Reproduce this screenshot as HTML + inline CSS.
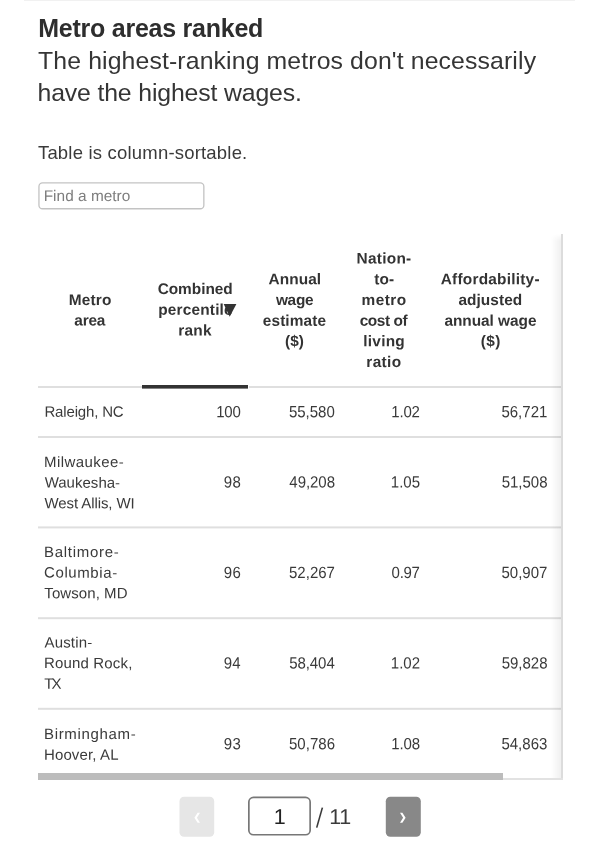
<!DOCTYPE html>
<html><head><meta charset="utf-8">
<style>
*{box-sizing:border-box;margin:0;padding:0}
html,body{width:600px;height:848px;background:#fff;overflow:hidden}
body{font-family:"Liberation Sans",sans-serif;color:#333;position:relative}
#w{position:absolute;left:0;top:0;width:600px;height:848px;overflow:hidden;will-change:transform}
.t{position:absolute;white-space:nowrap}
.shadow{position:absolute;left:551px;top:234px;width:10px;height:545px;background:linear-gradient(to right,rgba(0,0,0,0),rgba(0,0,0,0.06));-webkit-mask-image:linear-gradient(to bottom,transparent,#000 7px);mask-image:linear-gradient(to bottom,transparent,#000 7px)}
.vline{position:absolute;left:561px;top:234px;width:2px;height:545px;background:#dcdcdc}
.sbtrack{position:absolute;left:38px;top:773px;width:513px;height:5px;background:#fff}
.botline{position:absolute;left:502px;top:778px;width:61px;height:1.6px;background:#e2e2e2}
.sbthumb{position:absolute;left:38px;top:773px;width:464.5px;height:6.6px;background:#bcbcbc}
</style></head><body><div id="w">
<svg style="position:absolute;left:0;top:0" width="600" height="848" viewBox="0 0 600 848">
<rect x="24" y="0" width="551" height="1" fill="#f1f1f1"/>
<rect x="38.95" y="182.95" width="164.9" height="25.8" rx="3.6" fill="#fff" stroke="#c3c3c3" stroke-width="1.3"/>
<rect x="38" y="386" width="524" height="2" fill="#dfdfdf"/>
<rect x="142" y="385" width="106" height="3.6" fill="#333"/>
<rect x="248" y="385" width="1" height="4" fill="#fff"/>
<rect x="38" y="436" width="524" height="2" fill="#dfdfdf"/>
<rect x="38" y="526.4" width="524" height="2" fill="#dfdfdf"/>
<rect x="38" y="617.2" width="524" height="2" fill="#dfdfdf"/>
<rect x="38" y="707.8" width="524" height="2" fill="#dfdfdf"/>
<rect x="179.5" y="796.8" width="34.7" height="40" rx="4.5" fill="#e6e6e6"/>
<path d="M200 812.8H197.6L194.4 817.8L197.6 822.8H200L196.9 817.8Z" fill="#fff"/>
<rect x="248.85" y="797.45" width="61.3" height="37.3" rx="4.6" fill="#fff" stroke="#777" stroke-width="1.7"/>
<path d="M316.7 827.6L322.4 807.6" fill="none" stroke="#3a3a3a" stroke-width="1.6"/>
<rect x="385.8" y="796.8" width="35" height="40" rx="4.5" fill="#888"/>
<path d="M400 812.8H402.4L405.6 817.8L402.4 822.8H400L403.1 817.8Z" fill="#fff"/>
</svg>
<div class="t" style="left:38.22px;top:12px;font-size:25px;line-height:32px;font-weight:bold;color:#2e2e2e;letter-spacing:-0.242px">Metro areas ranked</div>
<div class="t" style="left:38.03px;top:45px;font-size:24.8px;line-height:31px;font-weight:normal;color:#353535;letter-spacing:0.125px">The highest-ranking metros don't necessarily</div>
<div class="t" style="left:37.52px;top:77px;font-size:24.8px;line-height:31px;font-weight:normal;color:#353535;letter-spacing:-0.141px">have the highest wages.</div>
<div class="t" style="left:37.95px;top:140px;font-size:18.5px;line-height:25px;font-weight:normal;color:#3a3a3a;letter-spacing:0.196px">Table is column-sortable.</div>
<div class="t" style="left:43px;top:185px;font-size:15.4px;line-height:21px;font-weight:normal;color:#7d7d7d;letter-spacing:0.019px;transform:translate(0.70px,0.00px) rotate(0.05deg);transform-origin:0 16px">Find a metro</div>
<div class="t" style="left:68px;top:289px;font-size:15.4px;line-height:21px;font-weight:bold;color:#333;letter-spacing:0.177px;transform:translate(0.69px,0.00px) rotate(0.05deg);transform-origin:0 16px">Metro</div>
<div class="t" style="left:74px;top:309px;font-size:15.4px;line-height:21px;font-weight:bold;color:#333;letter-spacing:-0.170px;transform:translate(0.26px,0.60px) rotate(0.05deg);transform-origin:0 16px">area</div>
<div class="t" style="left:157px;top:278px;font-size:15.4px;line-height:21px;font-weight:bold;color:#333;letter-spacing:-0.029px;transform:translate(0.66px,0.00px) rotate(0.05deg);transform-origin:0 16px">Combined</div>
<div class="t" style="left:158px;top:298px;font-size:15.4px;line-height:21px;font-weight:bold;color:#333;letter-spacing:0.189px;transform:translate(0.24px,0.80px) rotate(0.05deg);transform-origin:0 16px">percentile</div>
<div class="t" style="left:178px;top:319px;font-size:15.4px;line-height:21px;font-weight:bold;color:#333;letter-spacing:0.270px;transform:translate(0.22px,0.60px) rotate(0.05deg);transform-origin:0 16px">rank</div>
<div class="t" style="left:268px;top:268px;font-size:15.4px;line-height:21px;font-weight:bold;color:#333;letter-spacing:0.103px;transform:translate(0.43px,0.20px) rotate(0.05deg);transform-origin:0 16px">Annual</div>
<div class="t" style="left:275px;top:289px;font-size:15.4px;line-height:21px;font-weight:bold;color:#333;letter-spacing:-0.272px;transform:translate(0.90px,0.00px) rotate(0.05deg);transform-origin:0 16px">wage</div>
<div class="t" style="left:262px;top:309px;font-size:15.4px;line-height:21px;font-weight:bold;color:#333;letter-spacing:0.113px;transform:translate(0.79px,0.80px) rotate(0.05deg);transform-origin:0 16px">estimate</div>
<div class="t" style="left:285px;top:330px;font-size:15.4px;line-height:21px;font-weight:bold;color:#333;letter-spacing:0.049px;transform:translate(0.06px,0.20px) rotate(0.05deg);transform-origin:0 16px">($)</div>
<div class="t" style="left:356px;top:247px;font-size:15.4px;line-height:21px;font-weight:bold;color:#333;letter-spacing:0.278px;transform:translate(0.54px,0.40px) rotate(0.05deg);transform-origin:0 16px">Nation-</div>
<div class="t" style="left:374px;top:268px;font-size:15.4px;line-height:21px;font-weight:bold;color:#333;letter-spacing:0.201px;transform:translate(0.15px,0.20px) rotate(0.05deg);transform-origin:0 16px">to-</div>
<div class="t" style="left:361px;top:289px;font-size:15.4px;line-height:21px;font-weight:bold;color:#333;letter-spacing:0.458px;transform:translate(0.49px,0.00px) rotate(0.05deg);transform-origin:0 16px">metro</div>
<div class="t" style="left:359px;top:309px;font-size:15.4px;line-height:21px;font-weight:bold;color:#333;letter-spacing:-0.395px;transform:translate(0.65px,0.80px) rotate(0.05deg);transform-origin:0 16px">cost of</div>
<div class="t" style="left:363px;top:330px;font-size:15.4px;line-height:21px;font-weight:bold;color:#333;letter-spacing:0.266px;transform:translate(0.22px,0.20px) rotate(0.05deg);transform-origin:0 16px">living</div>
<div class="t" style="left:366px;top:351px;font-size:15.4px;line-height:21px;font-weight:bold;color:#333;letter-spacing:0.334px;transform:translate(0.34px,0.10px) rotate(0.05deg);transform-origin:0 16px">ratio</div>
<div class="t" style="left:440px;top:268px;font-size:15.4px;line-height:21px;font-weight:bold;color:#333;letter-spacing:0.236px;transform:translate(0.69px,0.20px) rotate(0.05deg);transform-origin:0 16px">Affordability-</div>
<div class="t" style="left:458px;top:289px;font-size:15.4px;line-height:21px;font-weight:bold;color:#333;letter-spacing:0.071px;transform:translate(0.42px,0.00px) rotate(0.05deg);transform-origin:0 16px">adjusted</div>
<div class="t" style="left:444px;top:309px;font-size:15.4px;line-height:21px;font-weight:bold;color:#333;letter-spacing:-0.026px;transform:translate(0.43px,0.80px) rotate(0.05deg);transform-origin:0 16px">annual wage</div>
<div class="t" style="left:480px;top:330px;font-size:15.4px;line-height:21px;font-weight:bold;color:#333;letter-spacing:0.432px;transform:translate(0.79px,0.20px) rotate(0.05deg);transform-origin:0 16px">($)</div>
<div class="t" style="left:44px;top:400px;font-size:15px;line-height:21px;font-weight:normal;color:#3a3a3a;letter-spacing:-0.162px;transform:translate(0.43px,0.80px) rotate(0.05deg);transform-origin:0 16px">Raleigh, NC</div>
<div class="t" style="left:43px;top:451px;font-size:15px;line-height:21px;font-weight:normal;color:#3a3a3a;letter-spacing:0.426px;transform:translate(0.98px,0.00px) rotate(0.05deg);transform-origin:0 16px">Milwaukee-</div>
<div class="t" style="left:44px;top:471px;font-size:15px;line-height:21px;font-weight:normal;color:#3a3a3a;letter-spacing:0.022px;transform:translate(0.63px,0.60px) rotate(0.05deg);transform-origin:0 16px">Waukesha-</div>
<div class="t" style="left:44px;top:492px;font-size:15px;line-height:21px;font-weight:normal;color:#3a3a3a;letter-spacing:-0.092px;transform:translate(0.53px,0.30px) rotate(0.05deg);transform-origin:0 16px">West Allis, WI</div>
<div class="t" style="left:43px;top:541px;font-size:15px;line-height:21px;font-weight:normal;color:#3a3a3a;letter-spacing:0.706px;transform:translate(0.97px,0.00px) rotate(0.05deg);transform-origin:0 16px">Baltimore-</div>
<div class="t" style="left:44px;top:561px;font-size:15px;line-height:21px;font-weight:normal;color:#3a3a3a;letter-spacing:0.600px;transform:translate(0.01px,0.60px) rotate(0.05deg);transform-origin:0 16px">Columbia-</div>
<div class="t" style="left:44px;top:582px;font-size:15px;line-height:21px;font-weight:normal;color:#3a3a3a;letter-spacing:0.071px;transform:translate(0.36px,0.30px) rotate(0.05deg);transform-origin:0 16px">Towson, MD</div>
<div class="t" style="left:44px;top:631px;font-size:15px;line-height:21px;font-weight:normal;color:#3a3a3a;letter-spacing:0.165px;transform:translate(0.46px,0.50px) rotate(0.05deg);transform-origin:0 16px">Austin-</div>
<div class="t" style="left:43px;top:652px;font-size:15px;line-height:21px;font-weight:normal;color:#3a3a3a;letter-spacing:0.163px;transform:translate(0.98px,0.10px) rotate(0.05deg);transform-origin:0 16px">Round Rock,</div>
<div class="t" style="left:44px;top:672px;font-size:15px;line-height:21px;font-weight:normal;color:#3a3a3a;letter-spacing:-1.836px;transform:translate(0.20px,0.80px) rotate(0.05deg);transform-origin:0 16px">TX</div>
<div class="t" style="left:43px;top:723px;font-size:15px;line-height:21px;font-weight:normal;color:#3a3a3a;letter-spacing:0.668px;transform:translate(0.97px,0.00px) rotate(0.05deg);transform-origin:0 16px">Birmingham-</div>
<div class="t" style="left:43px;top:743px;font-size:15px;line-height:21px;font-weight:normal;color:#3a3a3a;letter-spacing:0.123px;transform:translate(0.98px,0.80px) rotate(0.05deg);transform-origin:0 16px">Hoover, AL</div>
<div class="t" style="left:273px;top:803px;font-size:21.5px;line-height:28px;font-weight:normal;color:#222;letter-spacing:0.000px;transform:translate(0.81px,0.00px) rotate(0.05deg);transform-origin:0 21px">1</div>
<div class="t" style="left:329px;top:803px;font-size:21.5px;line-height:28px;font-weight:normal;color:#3a3a3a;letter-spacing:-0.248px;transform:translate(0.13px,0.00px) rotate(0.05deg);transform-origin:0 21px">11</div>
<div class="t" style="left:216px;top:401px;font-size:15.0px;line-height:21px;font-weight:normal;color:#3a3a3a;letter-spacing:-0.131px;transform:translate(0.15px,0.20px) rotate(0.05deg) scaleY(1.08);transform-origin:0 16px">100</div>
<div class="t" style="left:288px;top:401px;font-size:15.0px;line-height:21px;font-weight:normal;color:#3a3a3a;letter-spacing:-0.004px;transform:translate(0.92px,0.20px) rotate(0.05deg) scaleY(1.08);transform-origin:0 16px">55,580</div>
<div class="t" style="left:391px;top:401px;font-size:15.0px;line-height:21px;font-weight:normal;color:#3a3a3a;letter-spacing:-0.170px;transform:translate(0.25px,0.20px) rotate(0.05deg) scaleY(1.08);transform-origin:0 16px">1.02</div>
<div class="t" style="left:501px;top:401px;font-size:15.0px;line-height:21px;font-weight:normal;color:#3a3a3a;letter-spacing:0.010px;transform:translate(0.41px,0.20px) rotate(0.05deg) scaleY(1.08);transform-origin:0 16px">56,721</div>
<div class="t" style="left:223px;top:471px;font-size:15.0px;line-height:21px;font-weight:normal;color:#3a3a3a;letter-spacing:0.428px;transform:translate(0.79px,0.40px) rotate(0.05deg) scaleY(1.08);transform-origin:0 16px">98</div>
<div class="t" style="left:289px;top:471px;font-size:15.0px;line-height:21px;font-weight:normal;color:#3a3a3a;letter-spacing:-0.050px;transform:translate(0.37px,0.40px) rotate(0.05deg) scaleY(1.08);transform-origin:0 16px">49,208</div>
<div class="t" style="left:390px;top:471px;font-size:15.0px;line-height:21px;font-weight:normal;color:#3a3a3a;letter-spacing:-0.019px;transform:translate(0.86px,0.40px) rotate(0.05deg) scaleY(1.08);transform-origin:0 16px">1.05</div>
<div class="t" style="left:501px;top:471px;font-size:15.0px;line-height:21px;font-weight:normal;color:#3a3a3a;letter-spacing:-0.008px;transform:translate(0.66px,0.40px) rotate(0.05deg) scaleY(1.08);transform-origin:0 16px">51,508</div>
<div class="t" style="left:223px;top:562px;font-size:15.0px;line-height:21px;font-weight:normal;color:#3a3a3a;letter-spacing:0.383px;transform:translate(0.87px,0.00px) rotate(0.05deg) scaleY(1.08);transform-origin:0 16px">96</div>
<div class="t" style="left:288px;top:562px;font-size:15.0px;line-height:21px;font-weight:normal;color:#3a3a3a;letter-spacing:0.013px;transform:translate(0.99px,0.00px) rotate(0.05deg) scaleY(1.08);transform-origin:0 16px">52,267</div>
<div class="t" style="left:391px;top:562px;font-size:15.0px;line-height:21px;font-weight:normal;color:#3a3a3a;letter-spacing:-0.292px;transform:translate(0.61px,0.00px) rotate(0.05deg) scaleY(1.08);transform-origin:0 16px">0.97</div>
<div class="t" style="left:501px;top:562px;font-size:15.0px;line-height:21px;font-weight:normal;color:#3a3a3a;letter-spacing:0.014px;transform:translate(0.48px,0.00px) rotate(0.05deg) scaleY(1.08);transform-origin:0 16px">50,907</div>
<div class="t" style="left:223px;top:652px;font-size:15.0px;line-height:21px;font-weight:normal;color:#3a3a3a;letter-spacing:0.149px;transform:translate(0.79px,0.50px) rotate(0.05deg) scaleY(1.08);transform-origin:0 16px">94</div>
<div class="t" style="left:289px;top:652px;font-size:15.0px;line-height:21px;font-weight:normal;color:#3a3a3a;letter-spacing:-0.061px;transform:translate(0.16px,0.50px) rotate(0.05deg) scaleY(1.08);transform-origin:0 16px">58,404</div>
<div class="t" style="left:390px;top:652px;font-size:15.0px;line-height:21px;font-weight:normal;color:#3a3a3a;letter-spacing:-0.004px;transform:translate(0.86px,0.50px) rotate(0.05deg) scaleY(1.08);transform-origin:0 16px">1.02</div>
<div class="t" style="left:501px;top:652px;font-size:15.0px;line-height:21px;font-weight:normal;color:#3a3a3a;letter-spacing:-0.008px;transform:translate(0.66px,0.50px) rotate(0.05deg) scaleY(1.08);transform-origin:0 16px">59,828</div>
<div class="t" style="left:223px;top:733px;font-size:15.0px;line-height:21px;font-weight:normal;color:#3a3a3a;letter-spacing:0.428px;transform:translate(0.85px,0.30px) rotate(0.05deg) scaleY(1.08);transform-origin:0 16px">93</div>
<div class="t" style="left:288px;top:733px;font-size:15.0px;line-height:21px;font-weight:normal;color:#3a3a3a;letter-spacing:0.047px;transform:translate(0.92px,0.30px) rotate(0.05deg) scaleY(1.08);transform-origin:0 16px">50,786</div>
<div class="t" style="left:391px;top:733px;font-size:15.0px;line-height:21px;font-weight:normal;color:#3a3a3a;letter-spacing:-0.136px;transform:translate(0.25px,0.30px) rotate(0.05deg) scaleY(1.08);transform-origin:0 16px">1.08</div>
<div class="t" style="left:501px;top:733px;font-size:15.0px;line-height:21px;font-weight:normal;color:#3a3a3a;letter-spacing:0.006px;transform:translate(0.41px,0.30px) rotate(0.05deg) scaleY(1.08);transform-origin:0 16px">54,863</div>
<svg style="position:absolute;left:222px;top:302px" width="16" height="16" viewBox="0 0 16 16"><path d="M1.7 2H14.4L7.7 14.7Z" fill="#333"/></svg>
<div class="shadow"></div><div class="vline"></div>
<div class="sbtrack"></div><div class="botline"></div><div class="sbthumb"></div>
</div></body></html>
